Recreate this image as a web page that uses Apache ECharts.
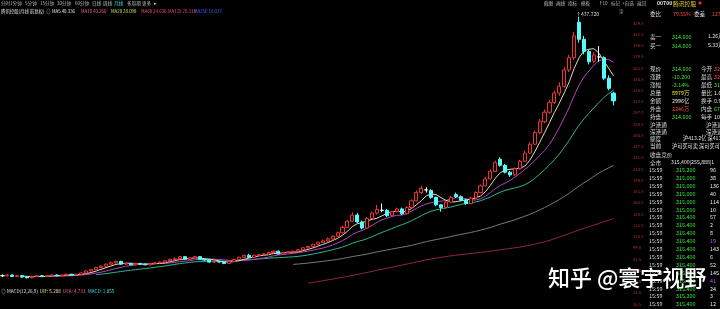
<!DOCTYPE html>
<html><head><meta charset="utf-8">
<script src="https://cdn.jsdelivr.net/npm/echarts@6/dist/echarts.min.js"></script>
<style>html,body{margin:0;padding:0;background:#000;overflow:hidden}#c{width:720px;height:309px}</style>
</head><body><div id="c"></div>
<script>
// ---- price data (open / close / low / high) ----
const opens  = [58,58,59,57,58,56,55,57,58,57,58,59,58,59,60,59,60,62,65,67,70,72,75,77,79,75,76,74,76,75,74,76,77,78,80,82,83,86,82,84,86,82,81,78,79,78,76,79,82,85,88,85,88,89,90,92,94,90,92,93,94,96,99,101,104,107,109,112,116,121,129,138,147,137,128,142,150,154,154,146,152,156,149,158,168,180,184,183,173,162,158,166,177,174,169,164,172,180,190,200,211,229,220,210,206,215,226,238,251,268,284,298,312,326,336,360,378,430,405,387,373,379,378,348,326];
const closes = [58,59,57,58,56,55,57,58,57,58,59,58,59,60,59,60,62,65,67,70,72,75,77,79,75,76,74,76,75,74,76,77,78,80,82,83,86,82,84,86,82,81,78,79,78,76,79,82,85,88,85,88,89,90,92,94,90,92,93,94,96,99,101,104,107,109,112,116,121,129,138,147,137,128,142,150,155,154,146,152,156,149,158,168,180,186,184,173,162,158,166,173,174,169,164,172,180,190,200,211,224,220,210,206,215,226,238,251,268,284,298,312,326,336,360,378,410,405,387,372,382,379,348,333,314.6];
const lows   = [56,57,56,56,55,54,54,56,56,56,57,57,57,58,58,58,59,61,64,66,69,71,74,76,74,74,73,73,74,73,73,75,76,77,79,81,82,81,81,83,81,80,77,77,77,75,75,78,81,84,84,84,87,88,89,91,89,89,91,92,93,95,98,100,103,106,108,111,115,120,128,137,135,126,127,141,148,151,144,145,151,147,148,157,167,178,180,171,160,152,156,165,172,167,162,163,171,179,189,199,210,218,208,203,205,214,225,237,250,266,282,296,310,322,334,357,375,400,383,368,370,372,345,330,308];
const highs  = [60,60,60,59,59,57,58,59,59,59,60,60,60,61,61,61,63,66,68,71,73,76,79,80,80,77,77,77,77,76,77,78,79,81,83,85,87,87,85,87,87,83,82,80,80,79,80,83,86,89,90,89,90,91,93,95,95,93,94,95,97,100,102,105,108,111,114,117,123,131,140,151,150,139,144,152,162,164,156,153,158,158,160,170,183,190,188,185,174,163,168,175,180,176,171,174,182,192,203,214,227,232,222,212,217,228,241,254,271,288,302,316,330,342,364,382,416,437.72,410,390,386,395,380,352,328];
// long-term average line (history starts before the visible window)
const ma120Idx = [62,70,80,89,100,109,117,124];
const ma120Val = [47,57,72,85,95,106,125,142];
// axis
const yMin = 16.5, yMax = 445.5, yStep = 16.5;
// header / panel texts
const menuItems = ['分时','1分钟','5分钟','15分钟','30分钟','60分钟','日线','周线','月线','多周期','更多','▸'];
const menuX     = [1,10,25,40,57,75,92,103,114,127,142,154];
const toolItems = ['截图','画线','指标','模板','F10','标记','+自选','返回'];
const toolX     = [544,556,568,581,600,611,622,637];
const maLegend  = ['MA5 40.336','MA10 40.260','MA20 28.098','MA60 24.636','MA120 20.318','MA250 16.027'];
const maLegendX = [52,81,111,141,168,194];
const statLabels = ['现价','涨跌','涨幅','总量','金额','外盘','持盘'];
const statValues = ['314.600','-10.200','-3.14%','8979万','2996亿','2246万','314.600'];
const statColors = ['#33ee33','#33ee33','#33ee33','#e8e838','#e8e8e8','#ff4848','#33ee33'];
const stat2Labels = ['今开','最高','最低','量比','换手','内盘','每手'];
const stat2Values = ['320.0','325.6','313.4','1.65','0.94%','6733万','100'];
const stat2Colors = ['#ff4848','#ff4848','#33ee33','#e8e8e8','#e8e8e8','#33ee33','#e8e8e8'];
const tradeTimes  = ['15:59','15:59','15:59','15:59','15:59','15:59','15:59','15:59','15:59','15:59','15:59','15:59','15:59','15:59','15:59','15:59','15:59','15:59'];
const tradePrices = ['315.200','315.000','315.000','315.000','315.000','315.000','315.400','315.400','315.400','315.400','315.400','315.400','315.400','315.400','315.400','315.400','315.200','315.400'];
const tradeVols   = ['96','38','136','40','114','10','57','2','8','19','143','6','52','145','41','24','3','12'];

const chart = echarts.init(document.getElementById('c'), null, {renderer:'canvas'});
const F = '"Noto Sans CJK SC","Noto Sans",sans-serif';
function ma(n){
  return closes.map((_, i) => {
    if (i < n - 1) return null;
    let s = 0; for (let k = i - n + 1; k <= i; k++) s += closes[k];
    return +(s / n).toFixed(3);
  });
}
const ma120 = closes.map(() => null);
ma120Idx.forEach((ix, k) => { ma120[ix] = ma120Val[k]; });
const cats = closes.map((_, i) => String(i + 1));
const kdata = opens.map((o, i) => [o, closes[i], lows[i], highs[i]]);

const g = [];
function T(x, y, text, fill, size, extra) {
  g.push({type:'text', silent:true, z:100, style:{x:x, y:y, text:text, fill:fill,
    font: (extra && extra.weight ? extra.weight + ' ' : '') + size + 'px ' + F,
    align:'left', verticalAlign:'middle', textAlign:'left', textVerticalAlign:'middle'}});
}
menuItems.forEach((t, i) => T(menuX[i], 3.5, t, i === 8 ? '#33dddd' : '#b8b8b8', 4.6));
toolItems.forEach((t, i) => T(toolX[i], 3.5, t, '#b8b8b8', 4.6));
T(1, 11, '腾讯控股(月线 前复权)', '#e0e0e0', 4.4);
T(46, 11, '◎', '#bbbbbb', 4.4);
const maColors = ['#e8e8e8','#ff5fa0','#c8e050','#ff4f7f','#e05070','#4060ff'];
maLegend.forEach((t, i) => T(maLegendX[i], 11, t, maColors[i], 4.4));
T(619, 11, '诊', '#999999', 4.4);
T(657, 3.5, '00700', '#e8e8e8', 5.2, {weight:'bold'});
T(673, 3.5, '腾讯控股', '#f0d020', 5.8);
T(698, 3.5, '◆', '#dd3030', 4);
T(650, 14, '委比', '#d8d8d8', 5.6);
T(673, 14, '79.55%', '#ff4848', 5.2);
T(694, 14, '委差', '#d8d8d8', 5.6);
T(712, 14, '1270', '#ff4848', 5.2);
T(650, 36.5, '卖一', '#d8d8d8', 5.6); T(672, 36.5, '314.600', '#33ee33', 5.4); T(708, 36.5, '1.26万', '#e8e8e8', 5.2);
T(650, 45.5, '买一', '#d8d8d8', 5.6); T(672, 45.5, '314.600', '#33ee33', 5.4); T(708, 45.5, '5.33万', '#e8e8e8', 5.2);
statLabels.forEach((t, i) => {
  const y = 69 + i * 8;
  T(650, y, t, '#d8d8d8', 5.6);
  T(672, y, statValues[i], statColors[i], 5.4);
  T(701, y, stat2Labels[i], '#d8d8d8', 5.6);
  T(714, y, stat2Values[i], stat2Colors[i], 5.4);
});
T(650, 124.5, '沪港通', '#d8d8d8', 5.6); T(706, 124.5, '沪港通', '#d8d8d8', 5.6);
T(650, 131.5, '深港通', '#d8d8d8', 5.6); T(706, 131.5, '深港通', '#d8d8d8', 5.6);
T(650, 138.5, '额度', '#d8d8d8', 5.6); T(683, 138.5, '沪413.2亿 深413.2亿', '#e8e8e8', 5.2);
T(650, 146, '当前', '#d8d8d8', 5.6); T(672, 146, '沪可买可卖 深可买可卖', '#e8e8e8', 5.2);
T(650, 155, '收盘竞价', '#d8d8d8', 5.6);
T(650, 162.5, '全市', '#d8d8d8', 5.6); T(671, 162.5, '315.400|255,888|1', '#e8e8e8', 5.2);
tradeTimes.forEach((t, i) => {
  const y = 170 + i * 7.9;
  T(649, y, t, '#d8d8d8', 5.4);
  T(676, y, tradePrices[i], '#33ee33', 5.4);
  T(710, y, tradeVols[i], (i === 9 || i === 14) ? '#c050ff' : '#e8e8e8', 5.4);
});
// MACD caption
T(1, 291.5, '◎', '#bbbbbb', 4.6);
T(7, 291.5, 'MACD(12,26,9)', '#e0e0e0', 4.6);
T(40, 291.5, 'DIF: 5.288', '#e8e8a0', 4.6);
T(63, 291.5, 'DEA: 4.733', '#ff5fa0', 4.6);
T(88, 291.5, 'MACD: 1.855', '#40e0e0', 4.6);
// watermark
g.push({type:'text', silent:true, z:200, style:{x:548, y:278, text:'知乎 @寰宇视野', fill:'#ffffff',
  font:'500 22px ' + F, align:'left', verticalAlign:'middle', textAlign:'left', textVerticalAlign:'middle',
  shadowColor:'rgba(0,0,0,0.6)', shadowBlur:3}});

function line(name, data, color, extra) {
  return Object.assign({name:name, type:'line', data:data, symbol:'none', showSymbol:false, silent:true,
    lineStyle:{width:1, color:color}, itemStyle:{color:color}, z:2, animation:false}, extra || {});
}

chart.setOption({
  backgroundColor:'#000000',
  animation:false,
  grid:{left:0, right:104, top:11.7, bottom:5, containLabel:false},
  xAxis:{type:'category', data:cats, boundaryGap:true, show:false},
  yAxis:{type:'value', position:'right', offset:14, min:yMin, max:yMax, interval:yStep, scale:false,
    axisLine:{show:false}, axisTick:{show:false}, splitLine:{show:false},
    axisLabel:{show:true, margin:3, fontSize:4.2, color:'#b03434', fontFamily:F, showMaxLabel:false,
      formatter:v => v.toFixed(1)}},
  series:[
    line('MA120', ma120, '#8e2a34', {connectNulls:true, smooth:0.4}),
    line('MA60', ma(60), '#71806e'),
    line('MA20', ma(20), '#2fb494'),
    line('MA10', ma(10), '#b444c4'),
    line('MA5', ma(5), '#e0e0b8'),
    {name:'K', type:'candlestick', data:kdata, barWidth:3.6, z:5, silent:true,
      itemStyle:{color:'#000000', color0:'#54fcfc', borderColor:'#f03434', borderColor0:'#54fcfc',
        borderColorDoji:'#ffffff', borderWidth:1},
      markPoint:{silent:true, symbol:'circle', symbolSize:0.1, animation:false,
        data:[{type:'max', valueDim:'highest'}],
        label:{show:true, position:'top', align:'left', distance:1, offset:[-3,1], fontSize:5, color:'#dddddd', fontFamily:F,
          formatter:p => '↑' + Number(p.value).toFixed(3)}}}
  ],
  graphic:g
});
</script></body></html>
